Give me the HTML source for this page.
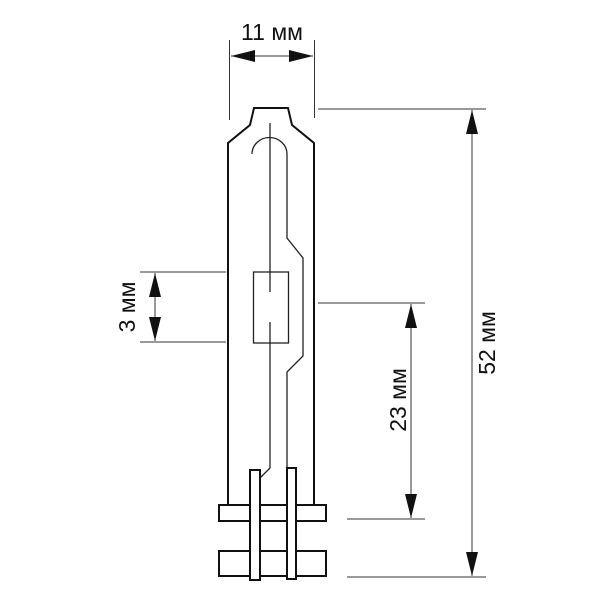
<!DOCTYPE html>
<html><head><meta charset="utf-8"><style>html,body{margin:0;padding:0;background:#fff}svg{display:block}</style></head>
<body>
<svg width="600" height="600" viewBox="0 0 600 600" xmlns="http://www.w3.org/2000/svg">
<defs>
<marker id="a" viewBox="0 0 24 12" refX="24" refY="6" markerWidth="24" markerHeight="12" markerUnits="userSpaceOnUse" orient="auto-start-reverse"><path d="M0,0 L24,6 L0,12z" fill="#111"/></marker>
</defs>
<g stroke="#333" stroke-width="1" fill="none">
<line x1="229.5" y1="40" x2="229.5" y2="120"/>
<line x1="314.5" y1="40" x2="314.5" y2="118"/>
<line x1="231" y1="56" x2="313" y2="56" marker-start="url(#a)" marker-end="url(#a)"/>
<line x1="318" y1="109" x2="486" y2="109"/>
<line x1="347" y1="577" x2="486" y2="577"/>
<line x1="472" y1="110" x2="472" y2="576" marker-start="url(#a)" marker-end="url(#a)"/>
<line x1="318" y1="303" x2="425" y2="303"/>
<line x1="347" y1="519" x2="425" y2="519"/>
<line x1="411" y1="304" x2="411" y2="518" marker-start="url(#a)" marker-end="url(#a)"/>
<line x1="140" y1="272" x2="226" y2="272"/>
<line x1="140" y1="342" x2="226" y2="342"/>
<line x1="155" y1="273" x2="155" y2="341" marker-start="url(#a)" marker-end="url(#a)"/>
</g>
<g stroke="#111" stroke-width="2" fill="none">
<path d="M228,505 L228,143 L250,125 L254,108 L288,108 L292,125 L314,143 L314,505"/>
</g>
<g stroke="#222" stroke-width="1.3" fill="none">
<line x1="270" y1="123" x2="270" y2="292"/>
<path d="M252,154 A17,16 0 0 1 287,154 L287,238 L303,258 L303,356 L287,372 L287,470"/>
<rect x="253.5" y="272" width="35" height="71"/>
<path d="M270,322 L270,468 L260,478"/>
</g>
<g stroke="#111" stroke-width="2" fill="#fff">
<rect x="219" y="505" width="107" height="16"/>
<rect x="219" y="551" width="107" height="25"/>
<rect x="250" y="470" width="10" height="110"/>
<rect x="287" y="468" width="9" height="111"/>
</g>
<g font-family="Liberation Sans, sans-serif" font-size="23" fill="#111" text-anchor="middle">
<text x="272" y="40">11 мм</text>
<text transform="translate(135,307) rotate(-90)">3 мм</text>
<text transform="translate(406,400) rotate(-90)">23 мм</text>
<text transform="translate(495,343) rotate(-90)">52 мм</text>
</g>
</svg>
</body></html>
